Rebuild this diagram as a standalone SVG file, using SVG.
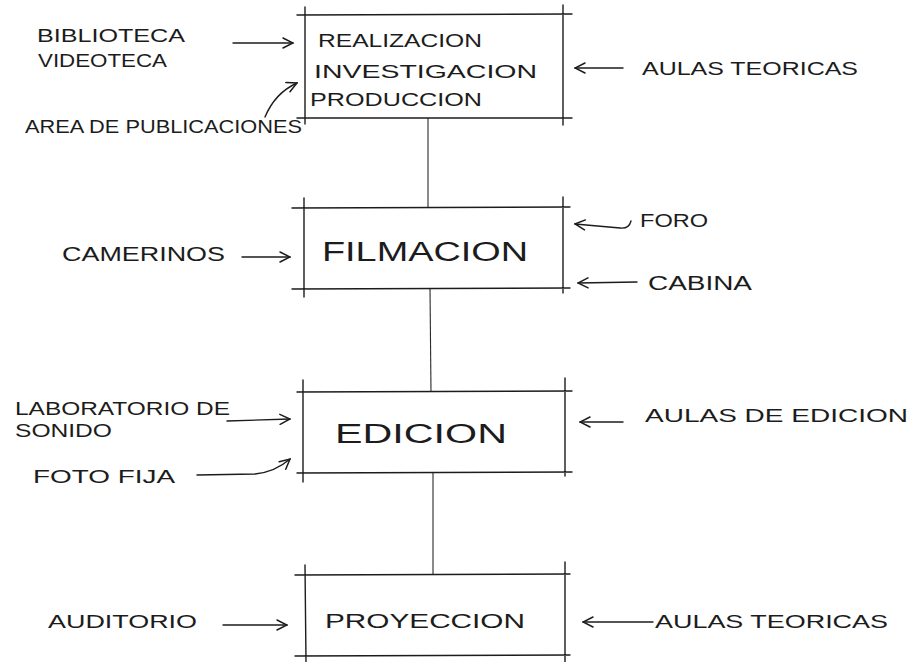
<svg xmlns="http://www.w3.org/2000/svg" width="922" height="662" viewBox="0 0 922 662">
<style>
  .ln{stroke:#1c1c1c;stroke-width:1.4;fill:none;stroke-linecap:round}
  .cn{stroke:#2a2a2a;stroke-width:1.1;fill:none}
  .t{font-family:"Liberation Sans",Arial,sans-serif;fill:#1c1c1c;font-size:19px}
  .big{font-size:27px}
  .mid{font-size:20px}
</style>
<defs>
  <marker id="ah" viewBox="0 0 12 12" refX="11" refY="6" markerWidth="12" markerHeight="12" markerUnits="userSpaceOnUse" orient="auto">
    <path d="M1,1 L11,6 L1,11" fill="none" stroke="#1c1c1c" stroke-width="1.5" stroke-linecap="round"/>
  </marker>
</defs>
<rect width="922" height="662" fill="#ffffff"/>

<g id="connectors">
  <path class="cn" d="M428,118 L428,208"/>
  <path class="cn" d="M430,289 L431,392"/>
  <path class="cn" d="M433,473 L433,575"/>
  <path class="ln" d="M233,43 L293,43" marker-end="url(#ah)"/>
  <path class="ln" d="M265,117 Q275,93 297,83" marker-end="url(#ah)"/>
  <path class="ln" d="M623,68 L575,68" marker-end="url(#ah)"/>
  <path class="ln" d="M242,257 L290,257" marker-end="url(#ah)"/>
  <path class="ln" d="M631,221 Q629,229 620,228 L575,224" marker-end="url(#ah)"/>
  <path class="ln" d="M637,282 L578,283" marker-end="url(#ah)"/>
  <path class="ln" d="M227,421 L290,419" marker-end="url(#ah)"/>
  <path class="ln" d="M197,475 L255,474 Q275,472 290,459" marker-end="url(#ah)"/>
  <path class="ln" d="M623,422 L580,422" marker-end="url(#ah)"/>
  <path class="ln" d="M223,625 L287,625" marker-end="url(#ah)"/>
  <path class="ln" d="M653,622 L583,622" marker-end="url(#ah)"/>
</g>

<g id="n1">
  <path class="ln" d="M297,15 L572,14 M297,118 L572,118 M305,7 L305,124 M563,5 L563,125"/>
  <text class="t" x="318" y="47" textLength="164" lengthAdjust="spacingAndGlyphs">REALIZACION</text>
  <text class="t" x="314" y="78" textLength="223" lengthAdjust="spacingAndGlyphs">INVESTIGACION</text>
  <text class="t" x="310" y="106" textLength="172" lengthAdjust="spacingAndGlyphs">PRODUCCION</text>
</g>
<g id="l-biblioteca">
  <text class="t" x="37" y="42" textLength="148" lengthAdjust="spacingAndGlyphs">BIBLIOTECA</text>
  <text class="t" x="38" y="67" textLength="129" lengthAdjust="spacingAndGlyphs">VIDEOTECA</text>
</g>
<g id="l-area">
  <text class="t" x="25" y="133" textLength="277" lengthAdjust="spacingAndGlyphs">AREA DE PUBLICACIONES</text>
</g>
<g id="l-aulas1">
  <text class="t" x="642" y="75" textLength="216" lengthAdjust="spacingAndGlyphs">AULAS TEORICAS</text>
</g>

<g id="n2">
  <path class="ln" d="M292,208 L570,207 M292,289 L570,288 M304,198 L304,297 M563,197 L563,293"/>
  <text class="t big" x="322" y="261" textLength="206" lengthAdjust="spacingAndGlyphs">FILMACION</text>
</g>
<g id="l-camerinos">
  <text class="t mid" x="62" y="261" textLength="163" lengthAdjust="spacingAndGlyphs">CAMERINOS</text>
</g>
<g id="l-foro">
  <text class="t" x="640" y="227" textLength="68" lengthAdjust="spacingAndGlyphs">FORO</text>
</g>
<g id="l-cabina">
  <text class="t mid" x="648" y="290" textLength="104" lengthAdjust="spacingAndGlyphs">CABINA</text>
</g>

<g id="n3">
  <path class="ln" d="M297,392 L572,391 M297,473 L572,472 M303,380 L303,482 M565,378 L565,476"/>
  <text class="t big" x="335" y="443" textLength="172" lengthAdjust="spacingAndGlyphs">EDICION</text>
</g>
<g id="l-laboratorio">
  <text class="t" x="15" y="415" textLength="215" lengthAdjust="spacingAndGlyphs">LABORATORIO DE</text>
  <text class="t" x="15" y="437" textLength="97" lengthAdjust="spacingAndGlyphs">SONIDO</text>
</g>
<g id="l-foto">
  <text class="t" x="33" y="483" textLength="142" lengthAdjust="spacingAndGlyphs">FOTO FIJA</text>
</g>
<g id="l-aulas-edicion">
  <text class="t" x="645" y="422" textLength="263" lengthAdjust="spacingAndGlyphs">AULAS DE EDICION</text>
</g>

<g id="n4">
  <path class="ln" d="M295,575 L570,574 M295,656 L570,655 M305,565 L306,662 M565,562 L565,662"/>
  <text class="t mid" x="325" y="628" textLength="200" lengthAdjust="spacingAndGlyphs">PROYECCION</text>
</g>
<g id="l-auditorio">
  <text class="t" x="48" y="628" textLength="149" lengthAdjust="spacingAndGlyphs">AUDITORIO</text>
</g>
<g id="l-aulas2">
  <text class="t" x="655" y="628" textLength="233" lengthAdjust="spacingAndGlyphs">AULAS TEORICAS</text>
</g>
</svg>
